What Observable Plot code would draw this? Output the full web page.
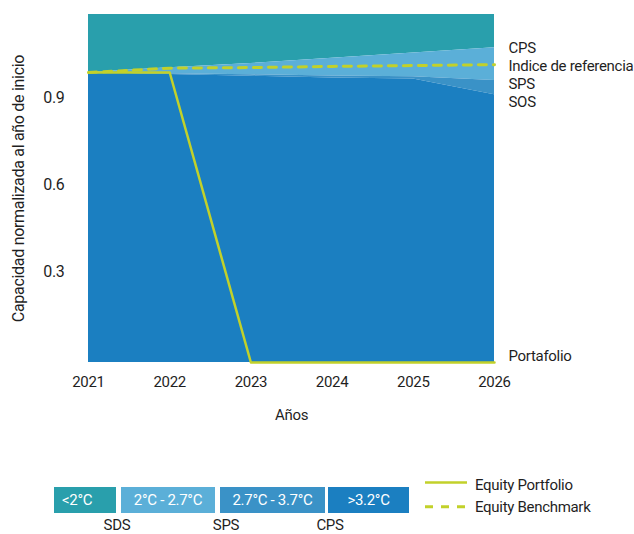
<!DOCTYPE html>
<html>
<head>
<meta charset="utf-8">
<script src="https://cdn.jsdelivr.net/npm/d3@7"></script>
<script src="https://cdn.jsdelivr.net/npm/@observablehq/plot@0.6"></script>
<style>
  html, body { margin: 0; padding: 0; background: #fff; }
  #wrap { position: relative; width: 634px; height: 534px; font-family: Roboto, sans-serif; color: #1f1f1f; overflow: hidden; letter-spacing: -0.3px; }
  #chart { position: absolute; left: 0; top: 0; }
  .box { position: absolute; top: 487px; height: 26px; line-height: 26px; color: #fff; font-size: 15px; text-align: center; white-space: nowrap; }
  .sub { position: absolute; top: 517px; font-size: 15px; line-height: 16px; transform: translateX(-50%); white-space: nowrap; }
  .ltxt { position: absolute; left: 475px; font-size: 15px; line-height: 18px; white-space: nowrap; }
  #lines { position: absolute; left: 420px; top: 470px; }
</style>
</head>
<body>
<div id="wrap">
  <div id="chart"></div>
  <div id="legend"></div>
</div>
<script>
// ---- data ----
const years = [2021, 2022, 2023, 2024, 2025, 2026];
const sos = [1.0, 0.993, 0.987, 0.981, 0.978, 0.923];        // >3.2°C band top
const sps = [1.0, 0.996, 0.992, 0.988, 0.985, 0.972];        // 2.7°C - 3.7°C band top
const cps = [1.0, 1.016, 1.031, 1.049, 1.067, 1.085];        // 2°C - 2.7°C band top
const benchmark = [1.0, 1.015, 1.017, 1.021, 1.024, 1.027];  // Equity Benchmark
const portfolio = [1.0, 1.0, 0.0, 0.0, 0.0, 0.0];            // Equity Portfolio
const yTicks = [0.3, 0.6, 0.9];
const yTop = 1.2;

const bandNames = ["<2°C", "2°C - 2.7°C", "2.7°C - 3.7°C", ">3.2°C"];
const bandColors = ["#299fac", "#5bafd8", "#3a92c7", "#1b7fc1"];
const scenarioNames = ["SDS", "SPS", "CPS"];
const endLabelNames = ["CPS", "Indice de referencia", "SPS", "SOS"];
const lineNames = ["Equity Portfolio", "Equity Benchmark"];
const lineColor = "#c2d12a";

// ---- build table ----
const rows = years.map((year, i) => ({
  year, sos: sos[i], sps: sps[i], cps: cps[i], bench: benchmark[i], port: portfolio[i]
}));
const last = rows[rows.length - 1];

// layout
const W = 634, H = 440, mL = 88, mR = 140, mT = 14, mB = 78;
const pxPerUnit = (H - mT - mB) / yTop;

// end labels, de-collided (min 18px apart)
const endVals = [last.cps, last.bench, last.sps, last.sos];
const gap = 18 / pxPerUnit;
const endLabels = [];
endLabelNames.forEach((name, i) => {
  let v = endVals[i];
  if (endLabels.length) v = Math.min(v, endLabels[endLabels.length - 1].v - gap);
  endLabels.push({name, v});
});

const chart = Plot.plot({
  width: W, height: H,
  marginLeft: mL, marginRight: mR, marginTop: mT, marginBottom: mB,
  style: {fontFamily: "Roboto, sans-serif", fontSize: "15px", color: "#1f1f1f", background: "transparent", letterSpacing: "-0.3px"},
  x: {domain: [years[0], years[years.length - 1]]},
  y: {domain: [0, yTop]},
  marks: [
    Plot.areaY(rows, {x: "year", y1: "cps", y2: yTop, fill: bandColors[0]}),
    Plot.areaY(rows, {x: "year", y1: "sps", y2: "cps", fill: bandColors[1]}),
    Plot.areaY(rows, {x: "year", y1: "sos", y2: "sps", fill: bandColors[2]}),
    Plot.areaY(rows, {x: "year", y1: 0, y2: "sos", fill: bandColors[3]}),
    Plot.lineY(rows, {x: "year", y: "bench", stroke: lineColor, strokeWidth: 3, strokeDasharray: "8,7"}),
    Plot.lineY(rows, {x: "year", y: "port", stroke: lineColor, strokeWidth: 2.5}),
    Plot.axisX({ticks: years, tickFormat: d => String(d), tickSize: 0, tickPadding: 14,
      label: "Años", labelAnchor: "center", labelArrow: "none", labelOffset: 57}),
    Plot.axisY({ticks: yTicks, tickFormat: d3.format(".1f"), tickSize: 0, tickPadding: 24, dy: -4, fontSize: 16,
      label: "Capacidad normalizada al año de inicio", labelAnchor: "center", labelArrow: "none", labelOffset: 76}),
    Plot.text(endLabels, {x: () => last.year, y: "v", text: "name", dx: 14, textAnchor: "start", fill: "#1f1f1f"}),
    Plot.text([last], {x: "year", y: "port", text: () => "Portafolio", dx: 14, dy: -6, textAnchor: "start", fill: "#1f1f1f"})
  ]
});
document.getElementById("chart").appendChild(chart);

// ---- legend ----
const legend = document.getElementById("legend");
const boxLayout = [[54, 62], [121, 94], [220, 105], [328, 81]];
bandNames.forEach((name, i) => {
  const d = document.createElement("div");
  d.className = "box";
  d.style.left = boxLayout[i][0] + "px";
  d.style.width = boxLayout[i][1] + "px";
  d.style.background = bandColors[i];
  if (i === 0) { d.style.textAlign = "left"; d.style.paddingLeft = "8px"; d.style.width = (boxLayout[i][1] - 8) + "px"; }
  d.textContent = name;
  legend.appendChild(d);
});
const subX = [117, 226, 330];
scenarioNames.forEach((name, i) => {
  const d = document.createElement("div");
  d.className = "sub";
  d.style.left = subX[i] + "px";
  d.textContent = name;
  legend.appendChild(d);
});
const svgNS = "http://www.w3.org/2000/svg";
const ls = document.createElementNS(svgNS, "svg");
ls.setAttribute("id", "lines");
ls.setAttribute("width", "60");
ls.setAttribute("height", "50");
[[12.5, null], [36.7, "8,8"]].forEach(([y, dash]) => {
  const l = document.createElementNS(svgNS, "line");
  l.setAttribute("x1", "5"); l.setAttribute("x2", "47");
  l.setAttribute("y1", y); l.setAttribute("y2", y);
  l.setAttribute("stroke", lineColor);
  l.setAttribute("stroke-width", dash ? "3" : "2.5");
  if (dash) l.setAttribute("stroke-dasharray", dash);
  ls.appendChild(l);
});
legend.appendChild(ls);
const lTop = [476, 498];
lineNames.forEach((name, i) => {
  const d = document.createElement("div");
  d.className = "ltxt";
  d.style.top = lTop[i] + "px";
  d.textContent = name;
  legend.appendChild(d);
});
</script>
</body>
</html>
